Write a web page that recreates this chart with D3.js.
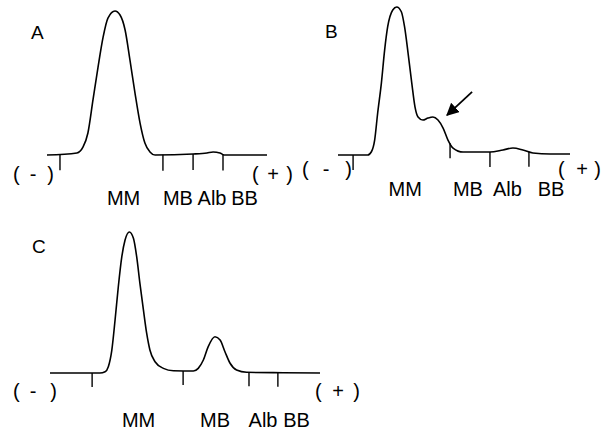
<!DOCTYPE html>
<head>
  <meta charset="utf-8">
  <script src="https://d3js.org/d3.v7.min.js"></script>
  <style>
    body { margin: 0; background: #fff; }
    text { font-family: 'Liberation Sans', Arial, sans-serif; fill: #000; }
    .lbl { font-size: 20px; }
    .letter { font-size: 19px; }
    .trace { fill: none; stroke: #000; stroke-width: 1.6; stroke-linejoin: round; }
    .tick { stroke: #000; stroke-width: 1.4; }
  </style>

  <script>
    // relative mobility (% of strip) and absorbance (% of main peak)
    var mobilityA = [0, 13.6, 16.4, 18.6, 20.9, 23.2, 25.5, 27.7, 30.9, 33.2, 35.5, 37.7, 40, 42.3, 44.5, 46.8, 49.1, 66.4, 72.7, 75.5, 78.6, 80.5, 100];
    var intensityA = [0, 1.4, 5.6, 15.3, 38.2, 61.1, 81.9, 95.1, 100, 97.2, 86.8, 66, 43, 22.2, 8.3, 2.1, 0, 0.7, 1.4, 2.1, 1.4, 0, 0];

    var mobilityB = [0, 12.8, 14.4, 15.8, 17.1, 18.7, 20.1, 21.4, 23.6, 25.3, 27.3, 28.7, 30.2, 31.8, 33.2, 34.5, 36.6, 38.8, 40.9, 43.1, 45.3, 47.4, 49.6, 53.9, 65.5, 71.1, 75.4, 79.7, 84, 91.4, 100];
    var intensityB = [0, 0, 2.2, 10.1, 28.4, 48.6, 70.9, 86.5, 98, 100, 96.8, 86.5, 68.9, 48.6, 32.4, 25.7, 23.6, 25, 25.7, 23.6, 18.2, 10.1, 4.7, 2, 2, 3.4, 4.7, 3.4, 1.4, 0.7, 0.7];

    var mobilityC = [0, 18.5, 20.4, 21.6, 22.9, 24.1, 25.3, 26.6, 27.8, 29.4, 30.9, 32.1, 33.3, 34.6, 35.8, 37, 38.9, 42, 45.7, 53.1, 54.9, 56.8, 58.6, 61.1, 63, 64.8, 66.7, 69.1, 72.8, 86.3, 100];
    var intensityC = [0, 0, 0.9, 4.5, 16.3, 37.6, 61.2, 82.5, 94.3, 100, 95.5, 82.5, 63.6, 44.7, 28.2, 16.3, 8, 3.3, 1.6, 1.4, 3.3, 9.2, 18.7, 25.7, 23.4, 15.1, 6.9, 2.1, 0.5, 0.2, 0];

    var bandNames = ["MM", "MB", "Alb", "BB"];
    var tickPosA = [5.9, 52.7, 66.4, 80];
    var tickPosB = [6.5, 48.3, 65.5, 82.3];
    var tickPosC = [15.6, 49.3, 73.7, 84.4];
    var labelPosA = [34.8, 59.5, 75, 89.8];
    var labelPosB = [29, 56, 73, 91.8];
    var labelPosC = [32.8, 61.1, 78.9, 91.3];

    // arrow in panel B: tail, head (mobility, absorbance)
    var arrowB = [[57.8, 42.6], [47, 27]];

    var panels = [
      { id: "A", mob: mobilityA, val: intensityA, ticks: tickPosA, labels: labelPosA,
        xr: [47, 267], yr: [155, 11], letter: [31, 39], labelY: 205, tickLen: 16,
        parenY: 181, minus: [13, 33, 54], plus: [252, 273, 293] },
      { id: "B", mob: mobilityB, val: intensityB, ticks: tickPosB, labels: labelPosB,
        xr: [338, 570], yr: [155, 7], letter: [325, 38], labelY: 196, tickLen: 15,
        parenY: 176, minus: [302, 326, 352], plus: [558, 582, 601], arrow: arrowB },
      { id: "C", mob: mobilityC, val: intensityC, ticks: tickPosC, labels: labelPosC,
        xr: [50, 320], yr: [373, 232], letter: [32, 253], labelY: 427, tickLen: 14,
        parenY: 398, minus: [13, 33, 57], plus: [315, 338, 360] }
    ];

    function valueAt(p, m) {
      var i = d3.bisectLeft(p.mob, m);
      if (i <= 0) return p.val[0];
      if (i >= p.mob.length) return p.val[p.val.length - 1];
      var t = (m - p.mob[i - 1]) / (p.mob[i] - p.mob[i - 1]);
      return p.val[i - 1] + t * (p.val[i] - p.val[i - 1]);
    }

    function draw() {
      var svg = d3.select("#chart").append("svg")
        .attr("width", 605).attr("height", 433);

      svg.append("defs").append("marker")
        .attr("id", "head")
        .attr("viewBox", "0 0 10 10")
        .attr("refX", 9).attr("refY", 5)
        .attr("markerWidth", 7).attr("markerHeight", 7)
        .attr("markerUnits", "strokeWidth")
        .attr("orient", "auto")
        .append("path").attr("d", "M0,0 L10,5 L0,10 z").attr("fill", "#000");

      panels.forEach(function (p) {
        var x = d3.scaleLinear().domain([0, 100]).range(p.xr);
        var y = d3.scaleLinear().domain([0, 100]).range(p.yr);
        var g = svg.append("g");

        g.append("text").attr("class", "letter")
          .attr("x", p.letter[0]).attr("y", p.letter[1]).text(p.id);

        var line = d3.line()
          .x(function (d, i) { return x(p.mob[i]); })
          .y(function (d, i) { return y(p.val[i]); })
          .curve(d3.curveMonotoneX);

        g.append("path").attr("class", "trace").attr("d", line(p.mob));

        g.selectAll("line.tick").data(p.ticks).enter().append("line")
          .attr("class", "tick")
          .attr("x1", function (d) { return x(d); })
          .attr("x2", function (d) { return x(d); })
          .attr("y1", function (d) { return y(valueAt(p, d)); })
          .attr("y2", function (d) { return y(valueAt(p, d)) + p.tickLen; });

        g.selectAll("text.band").data(p.labels).enter().append("text")
          .attr("class", "lbl band")
          .attr("text-anchor", "middle")
          .attr("x", function (d) { return x(d); })
          .attr("y", p.labelY)
          .text(function (d, i) { return bandNames[i]; });

        [[p.minus, "-"], [p.plus, "+"]].forEach(function (s) {
          var pos = s[0];
          g.append("text").attr("class", "lbl").attr("x", pos[0]).attr("y", p.parenY).text("(");
          g.append("text").attr("class", "lbl").attr("text-anchor", "middle")
            .attr("x", pos[1]).attr("y", p.parenY).text(s[1]);
          g.append("text").attr("class", "lbl").attr("text-anchor", "end")
            .attr("x", pos[2]).attr("y", p.parenY).text(")");
        });

        if (p.arrow) {
          g.append("line")
            .attr("x1", x(p.arrow[0][0])).attr("y1", y(p.arrow[0][1]))
            .attr("x2", x(p.arrow[1][0])).attr("y2", y(p.arrow[1][1]))
            .attr("stroke", "#000").attr("stroke-width", 1.8)
            .attr("marker-end", "url(#head)");
        }
      });
    }
  </script>
</head>

<body>
  <div id="chart"></div>
  <script>draw();</script>
</body>
</html>
